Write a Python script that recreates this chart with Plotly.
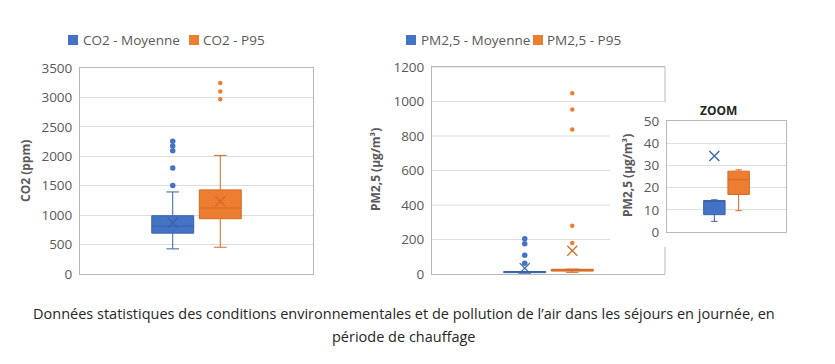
import plotly.graph_objects as go

# ---------------- data ----------------
series = ["Moyenne", "P95"]

co2_low = [427, 455]
co2_q1 = [694, 939]
co2_median = [814, 1121]
co2_q3 = [990, 1429]
co2_high = [1394, 2015]
co2_mean = [871, 1235]
co2_outliers = [[1503, 1799, 2094, 2174, 2254], [2971, 3102, 3244]]
co2_ticks = [0, 500, 1000, 1500, 2000, 2500, 3000, 3500]

pm_low = [4.8, 9.6]
pm_q1 = [7.8, 16.9]
pm_median = [13.9, 23.6]
pm_q3 = [14.2, 27.4]
pm_high = [14.5, 28.0]
pm_mean = [34.2, 135]
pm_outliers = [[62, 108, 176, 205], [180, 280, 837, 953, 1048]]
pm_ticks = [0, 200, 400, 600, 800, 1000, 1200]
zoom_ticks = [0, 10, 20, 30, 40, 50]

# ---------------- styling / layout ----------------
W, H = 835, 364
def px(x): return x / W
def py(y): return 1 - y / H

FILLS = ["#4472C4", "#ED7D31"]
LINES = ["#3A62AA", "#D46A22"]
OUT_SIZE = [5.5, 4.5]
POS = [-0.102, 0.102]
BOXW = 0.18
GRID = "#DDDDDD"
FRAME = "#B8B8B8"
TXT = "#595959"
FONT = "Open Sans"

fig = go.Figure()

def add_chart(xa, ya, low, q1, med, q3, high, mean, outs, prefix):
    for i, name in enumerate(series):
        fig.add_trace(go.Box(
            name=f"{prefix} - {name}", x=[POS[i]], q1=[q1[i]], median=[med[i]], q3=[q3[i]],
            lowerfence=[low[i]], upperfence=[high[i]], orientation="v",
            width=BOXW, whiskerwidth=0.3, boxpoints=False,
            fillcolor=FILLS[i], line=dict(color=LINES[i], width=1),
            xaxis=xa, yaxis=ya, showlegend=False, hoverinfo="skip"))
        fig.add_trace(go.Scatter(
            x=[POS[i]] * len(outs[i]), y=outs[i], mode="markers",
            marker=dict(color=FILLS[i], size=OUT_SIZE[i]),
            xaxis=xa, yaxis=ya, showlegend=False, hoverinfo="skip"))
        fig.add_trace(go.Scatter(
            x=[POS[i]], y=[mean[i]], mode="markers",
            marker=dict(symbol="x-thin", size=10, line=dict(color=LINES[i], width=1.3)),
            xaxis=xa, yaxis=ya, showlegend=False, hoverinfo="skip"))

add_chart("x", "y", co2_low, co2_q1, co2_median, co2_q3, co2_high, co2_mean, co2_outliers, "CO2")
add_chart("x2", "y2", pm_low, pm_q1, pm_median, pm_q3, pm_high, pm_mean, pm_outliers, "PM2,5")
add_chart("x3", "y3", pm_low, pm_q1, pm_median, pm_q3, pm_high, pm_mean, pm_outliers, "PM2,5")

xcommon = dict(range=[-0.5, 0.5], showticklabels=False, showgrid=False, zeroline=False,
               ticks="", fixedrange=True, automargin=False)
ycommon = dict(showgrid=True, gridcolor=GRID, gridwidth=1, zeroline=False, ticks="",
               automargin=False, fixedrange=True,
               tickfont=dict(family=FONT, size=13.5, color=TXT), ticklabelstandoff=4)

# chart-2 plot area, inset block
C2_L, C2_R, C2_T, C2_B = 432, 665, 67, 274
INS_L, INS_T, INS_B = 610, 102, 247

fig.update_layout(
    width=W, height=H, margin=dict(l=0, r=0, t=0, b=0, autoexpand=False), autosize=False,
    paper_bgcolor="white", plot_bgcolor="rgba(0,0,0,0)", showlegend=False,
    xaxis=dict(domain=[px(80), px(313)], anchor="y", showline=True, mirror=True,
               linecolor=FRAME, linewidth=1, **xcommon),
    yaxis=dict(domain=[py(274), py(68)], anchor="x", range=[0, 3500], tickvals=co2_ticks,
               showline=True, mirror=True, linecolor=FRAME, linewidth=1, **ycommon),
    xaxis2=dict(domain=[px(C2_L), px(C2_R)], anchor="y2", showline=True, mirror=True,
                linecolor=FRAME, linewidth=1, **xcommon),
    yaxis2=dict(domain=[py(C2_B), py(C2_T)], anchor="x2", range=[0, 1200], tickvals=pm_ticks,
                showline=True, mirror=False, linecolor=FRAME, linewidth=1,
                **{**ycommon, "showgrid": False}),
    xaxis3=dict(domain=[px(667), px(786)], anchor="y3", showline=True, mirror=True,
                linecolor=FRAME, linewidth=1, **xcommon),
    yaxis3=dict(domain=[py(232), py(121)], anchor="x3", range=[0, 50], tickvals=zoom_ticks,
                showline=True, mirror=True, linecolor=FRAME, linewidth=1, **ycommon),
)

shapes = []
# chart-2 gridlines, interrupted by the inset block
inset_top_val = (C2_B - INS_T) / (C2_B - C2_T) * 1200
cut = (INS_L - C2_L) / (C2_R - C2_L)
for v in pm_ticks[1:]:
    shapes.append(dict(type="line", xref="x2 domain", yref="y2", x0=0, x1=1 if v > inset_top_val else cut,
                       y0=v, y1=v, line=dict(color=GRID, width=1), layer="below"))
# chart-2 right border, interrupted by the inset block
top_frac = (C2_B - INS_T) / (C2_B - C2_T)
bot_frac = (C2_B - INS_B) / (C2_B - C2_T)
shapes.append(dict(type="line", xref="x2 domain", yref="y2 domain", x0=1, x1=1, y0=top_frac, y1=1,
                   line=dict(color=FRAME, width=1)))
shapes.append(dict(type="line", xref="x2 domain", yref="y2 domain", x0=1, x1=1, y0=0, y1=bot_frac,
                   line=dict(color=FRAME, width=1)))

def ann(x, y, text, size, color, xanchor="center", weight="normal", angle=0):
    return dict(xref="paper", yref="paper", x=px(x), y=py(y), text=text, showarrow=False,
                xanchor=xanchor, yanchor="middle", textangle=angle, borderpad=0,
                font=dict(family=FONT, size=size, color=color, weight=weight))

annotations = []
# legends (square + label)
legend_items = [
    (68, 82, "CO2 - Moyenne", 0), (189, 202, "CO2 - P95", 1),
    (406, 420, "PM2,5 - Moyenne", 0), (533, 546, "PM2,5 - P95", 1),
]
LEG_Y = 40
for sx, tx, label, ci in legend_items:
    shapes.append(dict(type="rect", xref="paper", yref="paper", x0=px(sx), x1=px(sx + 10),
                       y0=py(LEG_Y + 5), y1=py(LEG_Y - 5), fillcolor=FILLS[ci], line=dict(width=0)))
    annotations.append(ann(tx, LEG_Y, label, 13.5, TXT, xanchor="left"))

# axis titles, inset title, caption
annotations += [
    ann(25, 171, "CO2 (ppm)", 12, TXT, weight="bold", angle=-90),
    ann(375, 170, "PM2,5 (µg/m³)", 12, TXT, weight="bold", angle=-90),
    ann(627, 176, "PM2,5 (µg/m³)", 12, TXT, weight="bold", angle=-90),
    ann(718, 110, "ZOOM", 12, "#262626", weight="bold"),
    ann(404, 313, "Données statistiques des conditions environnementales et de pollution de l’air dans les séjours en journée, en",
        14.5, "#262626"),
    ann(404, 336, "période de chauffage", 14.5, "#262626"),
]

fig.update_layout(shapes=shapes, annotations=annotations)
fig.write_html("out.html", config={"displayModeBar": False, "staticPlot": True},
               post_script="document.body.style.margin='0';document.body.style.overflow='hidden';")
